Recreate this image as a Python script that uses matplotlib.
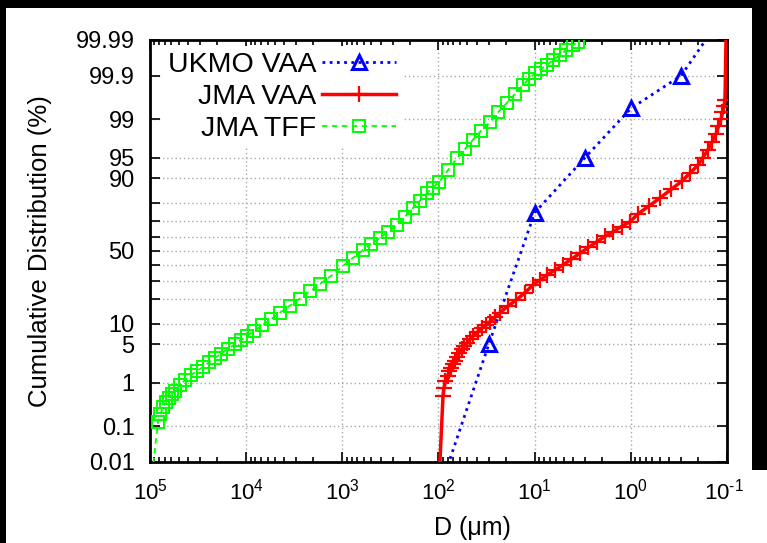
import math
import numpy as np
import matplotlib
matplotlib.use("Agg")
import matplotlib.pyplot as plt
from matplotlib.patches import Rectangle
from matplotlib.transforms import ScaledTranslation
from matplotlib.ticker import LogLocator, FuncFormatter, NullFormatter

plt.rcParams['font.family'] = ['Liberation Sans', 'DejaVu Sans']
plt.rcParams['mathtext.fontset'] = 'custom'
plt.rcParams['mathtext.rm'] = 'Liberation Sans'
plt.rcParams['mathtext.it'] = 'Liberation Sans:italic'
plt.rcParams['mathtext.bf'] = 'Liberation Sans:bold'

# ---------------- data (D in micrometres, cumulative %) ----------------
ukmo_D = [100, 30, 10, 3, 1, 0.3, 0.1]
ukmo_P = [0.001, 5, 75, 95, 99.4, 99.9, 99.999]

jma_vaa_D = [100, 89.8, 87.7, 84.6, 80.6, 76.9, 74.2, 70.7, 67.4, 64.2, 60.5,
             57.0, 53.7, 50.5, 47.0, 43.8, 39.3, 35.3, 32.1, 29.1, 25.9,
             22.9, 18.9, 15.5, 12.6, 10.4, 8.81, 7.44, 6.15, 5.08, 4.14,
             3.38, 2.76, 2.25, 1.86, 1.53, 1.25, 1.02, 0.843, 0.648, 0.498,
             0.382, 0.294, 0.243, 0.200, 0.178, 0.158, 0.143, 0.130, 0.1227,
             0.1155, 0.1114, 0.1075, 0.105, 0.1]
jma_vaa_P = [0.001, 0.530, 0.788, 1.10, 1.38, 1.72, 2.00, 2.32, 2.68, 3.09, 3.61,
             4.21, 4.70, 5.25, 5.94, 6.71, 7.67, 8.74, 9.61, 10.7, 12.2,
             13.9, 16.6, 19.4, 23.2, 27.5, 30.5, 33.6, 36.9, 40.3, 44.4,
             48.4, 52.5, 56.5, 60.1, 63.3, 66.7, 69.7, 74.3, 78.6, 82.5,
             86.1, 89.1, 91.5, 93.5, 95.0, 96.25, 97.26, 98.04, 98.59,
             99.0, 99.27, 99.47, 99.61, 99.9999]

jma_tff_D = [100000, 82600, 77800, 73300, 68200, 63400, 59000, 55000, 48800, 43300,
             37500, 32500, 28100, 24400, 21100, 18300, 15400, 13100, 11300,
             9800, 8290, 6850, 5520, 4450, 3500, 2760, 2170, 1710, 1310,
             984, 775, 610, 504, 406, 335, 270, 223, 184, 156, 132, 114,
             98.8, 79.7, 64.2, 53.0, 43.8, 36.2, 29.1, 24.1, 19.4, 16.0,
             13.2, 11.5, 9.92, 8.6, 7.44, 6.45, 5.45, 4.72, 4.0, 3.54]
jma_tff_P = [0.001, 0.131, 0.204, 0.298, 0.389, 0.479, 0.586, 0.680, 0.91, 1.15,
             1.44, 1.72, 2.05, 2.47, 2.97, 3.54, 4.21, 5.06, 5.84,
             6.71, 7.93, 9.46, 11.5, 13.9, 16.8, 20.1, 23.8, 28.0, 33.0,
             39.6, 45.1, 50.7, 54.9, 59.1, 63.4, 67.7, 72.8, 77.6, 81.3, 84.7, 86.8,
             88.8, 92.3, 94.9, 96.4, 97.5, 98.28, 98.85, 99.27, 99.55, 99.72,
             99.83, 99.878, 99.915, 99.933, 99.948, 99.962, 99.972, 99.980, 99.986, 99.9885]

y_ticks = [0.01, 0.1, 1, 5, 10, 20, 30, 40, 50, 60, 70, 80, 90, 95, 99, 99.9, 99.99]
y_tick_labels = ['0.01', '0.1', '1', '5', '10', '', '', '', '50', '', '', '', '90',
                 '95', '99', '99.9', '99.99']
series_labels = ['UKMO VAA', 'JMA VAA', 'JMA TFF']

# ---------------- probability (probit) scale ----------------
_erf = np.vectorize(math.erf, otypes=[float])


def norm_cdf(z):
    z = np.asarray(z, dtype=float)
    return 0.5 * (1.0 + _erf(z / math.sqrt(2.0)))


def norm_ppf(p):
    p = np.asarray(p, dtype=float)
    shape = p.shape
    p = np.atleast_1d(p).astype(float)
    a = [-3.969683028665376e+01, 2.209460984245205e+02, -2.759285104469687e+02,
         1.383577518672690e+02, -3.066479806614716e+01, 2.506628277459239e+00]
    b = [-5.447609879822406e+01, 1.615858368580409e+02, -1.556989798598866e+02,
         6.680131188771972e+01, -1.328068155288572e+01]
    c = [-7.784894002430293e-03, -3.223964580411365e-01, -2.400758277161838e+00,
         -2.549732539343734e+00, 4.374664141464968e+00, 2.938163982698783e+00]
    d = [7.784695709041462e-03, 3.224671290700398e-01, 2.445134137142996e+00,
         3.754408661907416e+00]
    plow = 0.02425
    x = np.zeros_like(p)
    lo = p < plow
    hi = p > 1 - plow
    mid = ~(lo | hi)
    q = np.sqrt(-2 * np.log(p[lo]))
    x[lo] = (((((c[0]*q+c[1])*q+c[2])*q+c[3])*q+c[4])*q+c[5]) / \
        ((((d[0]*q+d[1])*q+d[2])*q+d[3])*q+1)
    q = p[mid] - 0.5
    r = q * q
    x[mid] = (((((a[0]*r+a[1])*r+a[2])*r+a[3])*r+a[4])*r+a[5])*q / \
        (((((b[0]*r+b[1])*r+b[2])*r+b[3])*r+b[4])*r+1)
    q = np.sqrt(-2 * np.log(1 - p[hi]))
    x[hi] = -(((((c[0]*q+c[1])*q+c[2])*q+c[3])*q+c[4])*q+c[5]) / \
        ((((d[0]*q+d[1])*q+d[2])*q+d[3])*q+1)
    e = norm_cdf(x) - p
    u = e * math.sqrt(2 * math.pi) * np.exp(x * x / 2)
    x = x - u / (1 + x * u / 2)
    return x.reshape(shape)


def fwd(y):
    p = np.clip(np.asarray(y, dtype=float) / 100.0, 1e-15, 1 - 1e-15)
    return norm_ppf(p)


def inv(z):
    return norm_cdf(z) * 100.0


def pow10_label(v, pos=None):
    if v <= 0:
        return ''
    e = int(round(math.log10(v)))
    if e < 0:
        return r'$10^{\text{-}%d}$' % (-e)
    return r'$10^{%d}$' % e


# ---------------- figure ----------------
W, H = 767, 543
fig = plt.figure(figsize=(W / 100, H / 100), dpi=100)
fig.patch.set_facecolor('black')
# white page: full width below the plot box, narrower (black strips) above
fig.add_artist(Rectangle((6 / W, 0), (752 - 6) / W, (H - 8) / H,
                         transform=fig.transFigure, facecolor='white',
                         edgecolor='none', zorder=-10))
fig.add_artist(Rectangle((6 / W, 0), (W - 6) / W, (H - 470) / H,
                         transform=fig.transFigure, facecolor='white',
                         edgecolor='none', zorder=-10))

ax = fig.add_axes([150 / W, (H - 462) / H, 577 / W, 422 / H])
ax.set_xscale('log')
ax.set_yscale('function', functions=(fwd, inv))

ax.plot(ukmo_D, ukmo_P, color='#0000ff', ls=(0, (1, 1.6)), lw=2.0,
        marker='^', ms=10.5, mfc='none', mew=2.2, label=series_labels[0], zorder=3)
ax.plot(jma_vaa_D, jma_vaa_P, color='#ff0000', ls='-', lw=2.5,
        marker='+', ms=11, mew=1.6, label=series_labels[1], zorder=3)
ax.plot(jma_tff_D, jma_tff_P, color='#00ff00', ls=(0, (3, 2.5)), lw=1.3,
        marker='s', ms=9, mfc='none', mew=1.4, label=series_labels[2], zorder=3)

ax.set_xlim(1e5, 0.1)
ax.set_ylim(0.01, 99.99)

ax.xaxis.set_major_locator(LogLocator(base=10, numticks=100))
ax.xaxis.set_major_formatter(FuncFormatter(pow10_label))
ax.xaxis.set_minor_locator(LogLocator(base=10, subs=np.arange(2, 10), numticks=100))
ax.xaxis.set_minor_formatter(NullFormatter())

ax.set_yticks(y_ticks)
ax.set_yticklabels(y_tick_labels)
ax.yaxis.set_minor_formatter(NullFormatter())

ax.tick_params(which='both', direction='in', top=True, right=True,
               width=1.2, color='black')
ax.tick_params(which='major', length=7, labelsize=17, pad=11)
ax.tick_params(which='minor', length=3.5)
ax.tick_params(axis='x', which='major', pad=12, labelsize=16)

ax.set_axisbelow(True)
ax.grid(True, which='major', color='#a8a8a8', ls=(0, (1, 2)), lw=1.0)

for s in ax.spines.values():
    s.set_linewidth(2.0)

ax.set_xlabel('D (μm)', fontsize=18)
ax.xaxis.set_label_coords(0.558, -0.128)
ax.set_ylabel('Cumulative Distribution (%)', fontsize=18.5)
ax.yaxis.set_label_coords(-0.170, 0.5)

leg = ax.legend(loc='upper right', bbox_to_anchor=((402 - 150) / 577, 1 - 6 / 422),
                markerfirst=False, frameon=True, fancybox=False, framealpha=1,
                edgecolor='none', facecolor='white', handlelength=2.6,
                handletextpad=0.22, labelspacing=0.21, borderpad=0.2,
                borderaxespad=0, fontsize=20.5)
leg.set_zorder(5)

# nudge the right-most x tick label slightly inwards so it stays in the picture
fig.canvas.draw()
for tick in ax.xaxis.get_major_ticks():
    if abs(tick.get_loc() - 0.1) < 1e-9:
        lab = tick.label1
        lab.set_transform(lab.get_transform() +
                          ScaledTranslation(-3 / 100, 0, fig.dpi_scale_trans))

fig.savefig('out.png', dpi=100)
